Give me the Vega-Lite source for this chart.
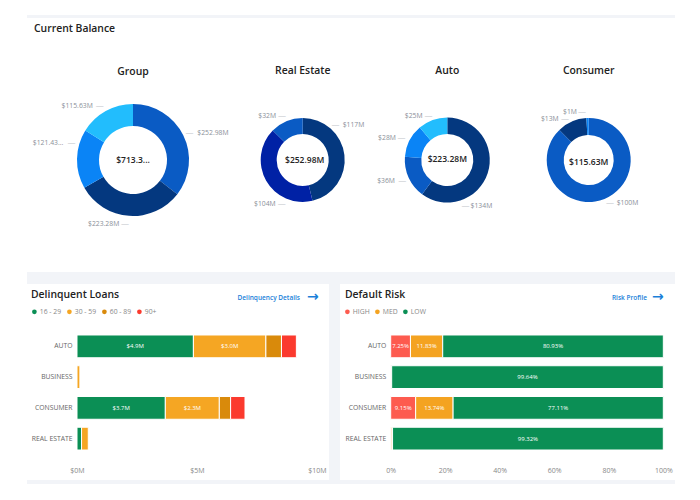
{
  "$schema": "https://vega.github.io/schema/vega-lite/v6.json",
  "padding": {"left": 27, "top": 15, "right": 0, "bottom": 0},
  "background": "white",
  "bounds": "full",
  "spacing": 0,
  "config": {
    "font": "Open Sans",
    "view": {"stroke": null},
    "title": {"color": "#222222", "fontWeight": 600, "fontSize": 10.4},
    "text": {"baseline": "middle"}
  },
  "vconcat": [
    {
      "width": 648, "height": 3,
      "data": {"values": []},
      "mark": "rect",
      "view": {"fill": "#f2f4f8", "stroke": null}
    },
    {
      "width": 648, "height": 30,
      "title": {"text": "Current Balance", "anchor": "start", "frame": "group", "dx": 7, "offset": -16},
      "data": {"values": []},
      "mark": "rect"
    },
    {
      "hconcat": [
        {
          "width": 212, "height": 224,
          "title": {"text": "Group", "anchor": "middle", "frame": "group", "offset": -29},
          "data": {"values": [
            {"segment": "Real Estate", "ord": 1, "value": 252.98, "label": "$252.98M"},
            {"segment": "Auto", "ord": 2, "value": 223.28, "label": "$223.28M"},
            {"segment": "Business", "ord": 3, "value": 121.43, "label": "$121.43..."},
            {"segment": "Consumer", "ord": 4, "value": 115.63, "label": "$115.63M"}
          ]},
          "encoding": {
            "theta": {"field": "value", "type": "quantitative", "stack": "zero"},
            "order": {"field": "ord"}
          },
          "layer": [
            {
              "mark": {"type": "arc", "radius": 56, "radius2": 34},
              "encoding": {
                "color": {"field": "segment", "legend": null, "scale": {"domain": ["Real Estate", "Auto", "Business", "Consumer"], "range": ["#0a5bc4", "#04387f", "#0a84f6", "#22bdfd"]}}
              }
            },
            {
              "encoding": {"theta": {"field": "value", "type": "quantitative", "stack": "zero", "bandPosition": 0.5}},
              "layer": [
                {"mark": {"type": "text", "radius": 62, "align": "left", "dx": 8.7, "dy": 0.6, "fontSize": 6.8, "color": "#8a8f99"}, "encoding": {"text": {"condition": {"test": "datum.ord === 1", "field": "label"}, "value": ""}}},
                {"mark": {"type": "text", "radius": 62, "align": "right", "dx": -9.4, "dy": 2.5, "fontSize": 6.8, "color": "#8a8f99"}, "encoding": {"text": {"condition": {"test": "datum.ord === 2", "field": "label"}, "value": ""}}},
                {"mark": {"type": "text", "radius": 62, "align": "right", "dx": -7.7, "dy": -15.6, "fontSize": 6.8, "color": "#8a8f99"}, "encoding": {"text": {"condition": {"test": "datum.ord === 3", "field": "label"}, "value": ""}}},
                {"mark": {"type": "text", "radius": 62, "align": "right", "dx": -10, "dy": -0.2, "fontSize": 6.8, "color": "#8a8f99"}, "encoding": {"text": {"condition": {"test": "datum.ord === 4", "field": "label"}, "value": ""}}},
                {"mark": {"type": "text", "radius": 62, "dx": 0.9, "dy": 0.3, "fontSize": 8, "color": "#c4c7cd"}, "encoding": {"text": {"condition": {"test": "datum.ord === 1", "value": "—"}, "value": ""}}},
                {"mark": {"type": "text", "radius": 62, "dx": -3.7, "dy": 2.5, "fontSize": 8, "color": "#c4c7cd"}, "encoding": {"text": {"condition": {"test": "datum.ord === 2", "value": "—"}, "value": ""}}},
                {"mark": {"type": "text", "radius": 62, "dx": 0.5, "dy": -15.6, "fontSize": 8, "color": "#c4c7cd"}, "encoding": {"text": {"condition": {"test": "datum.ord === 3", "value": "—"}, "value": ""}}},
                {"mark": {"type": "text", "radius": 62, "dx": -3, "dy": -0.2, "fontSize": 8, "color": "#c4c7cd"}, "encoding": {"text": {"condition": {"test": "datum.ord === 4", "value": "—"}, "value": ""}}}
              ]
            },
            {
              "data": {"values": [{"total": "$713.3..."}]},
              "mark": {"type": "text", "fontSize": 8.5, "fontWeight": 600, "color": "#222222"},
              "encoding": {"theta": null, "order": null, "text": {"field": "total"}}
            }
          ]
        },
        {
          "width": 127.4, "height": 224,
          "title": {"text": "Real Estate", "anchor": "middle", "frame": "group", "offset": -28},
          "data": {"values": [
            {"segment": "Tier 1", "ord": 1, "value": 117, "label": "$117M"},
            {"segment": "Tier 2", "ord": 2, "value": 104, "label": "$104M"},
            {"segment": "Tier 3", "ord": 3, "value": 32, "label": "$32M"}
          ]},
          "encoding": {
            "theta": {"field": "value", "type": "quantitative", "stack": "zero"},
            "order": {"field": "ord"}
          },
          "layer": [
            {
              "mark": {"type": "arc", "radius": 42, "radius2": 26},
              "encoding": {
                "color": {"field": "segment", "legend": null, "scale": {"domain": ["Tier 1", "Tier 2", "Tier 3"], "range": ["#04387f", "#0021a5", "#0a5bc4"]}}
              }
            },
            {
              "encoding": {"theta": {"field": "value", "type": "quantitative", "stack": "zero", "bandPosition": 0.5}},
              "layer": [
                {"mark": {"type": "text", "radius": 48, "align": "left", "dx": -7.7, "dy": -29.5, "fontSize": 6.8, "color": "#8a8f99"}, "encoding": {"text": {"condition": {"test": "datum.ord === 1", "field": "label"}, "value": ""}}},
                {"mark": {"type": "text", "radius": 48, "align": "right", "dx": 14.8, "dy": 20.2, "fontSize": 6.8, "color": "#8a8f99"}, "encoding": {"text": {"condition": {"test": "datum.ord === 2", "field": "label"}, "value": ""}}},
                {"mark": {"type": "text", "radius": 48, "align": "right", "dx": -8.1, "dy": 0.7, "fontSize": 6.8, "color": "#8a8f99"}, "encoding": {"text": {"condition": {"test": "datum.ord === 3", "field": "label"}, "value": ""}}},
                {"mark": {"type": "text", "radius": 48, "dx": -14.9, "dy": -29.5, "fontSize": 8, "color": "#c4c7cd"}, "encoding": {"text": {"condition": {"test": "datum.ord === 1", "value": "—"}, "value": ""}}},
                {"mark": {"type": "text", "radius": 48, "dx": 20.8, "dy": 20.2, "fontSize": 8, "color": "#c4c7cd"}, "encoding": {"text": {"condition": {"test": "datum.ord === 2", "value": "—"}, "value": ""}}},
                {"mark": {"type": "text", "radius": 48, "dx": -2, "dy": 0.7, "fontSize": 8, "color": "#c4c7cd"}, "encoding": {"text": {"condition": {"test": "datum.ord === 3", "value": "—"}, "value": ""}}}
              ]
            },
            {
              "data": {"values": [{"total": "$252.98M"}]},
              "mark": {"type": "text", "fontSize": 8.5, "fontWeight": 600, "color": "#222222", "dx": 2},
              "encoding": {"theta": null, "order": null, "text": {"field": "total"}}
            }
          ]
        },
        {
          "width": 160.6, "height": 224,
          "title": {"text": "Auto", "anchor": "middle", "frame": "group", "offset": -28.5},
          "data": {"values": [
            {"segment": "Tier 1", "ord": 1, "value": 134, "label": "$134M"},
            {"segment": "Tier 2", "ord": 2, "value": 36, "label": "$36M"},
            {"segment": "Tier 3", "ord": 3, "value": 28, "label": "$28M"},
            {"segment": "Tier 4", "ord": 4, "value": 25, "label": "$25M"}
          ]},
          "encoding": {
            "theta": {"field": "value", "type": "quantitative", "stack": "zero"},
            "order": {"field": "ord"}
          },
          "layer": [
            {
              "mark": {"type": "arc", "radius": 42.5, "radius2": 26},
              "encoding": {
                "color": {"field": "segment", "legend": null, "scale": {"domain": ["Tier 1", "Tier 2", "Tier 3", "Tier 4"], "range": ["#04387f", "#0a5bc4", "#0a84f6", "#22bdfd"]}}
              }
            },
            {
              "encoding": {"theta": {"field": "value", "type": "quantitative", "stack": "zero", "bandPosition": 0.5}},
              "layer": [
                {"mark": {"type": "text", "radius": 48.5, "align": "left", "dx": -22.8, "dy": 31.3, "fontSize": 6.8, "color": "#8a8f99"}, "encoding": {"text": {"condition": {"test": "datum.ord === 1", "field": "label"}, "value": ""}}},
                {"mark": {"type": "text", "radius": 48.5, "align": "right", "dx": -8.3, "dy": 0.8, "fontSize": 6.8, "color": "#8a8f99"}, "encoding": {"text": {"condition": {"test": "datum.ord === 2", "field": "label"}, "value": ""}}},
                {"mark": {"type": "text", "radius": 48.5, "align": "right", "dx": -8.2, "dy": 0.4, "fontSize": 6.8, "color": "#8a8f99"}, "encoding": {"text": {"condition": {"test": "datum.ord === 3", "field": "label"}, "value": ""}}},
                {"mark": {"type": "text", "radius": 48.5, "align": "right", "dx": -8, "dy": 1.2, "fontSize": 6.8, "color": "#8a8f99"}, "encoding": {"text": {"condition": {"test": "datum.ord === 4", "field": "label"}, "value": ""}}},
                {"mark": {"type": "text", "radius": 48.5, "dx": -27.8, "dy": 31.3, "fontSize": 8, "color": "#c4c7cd"}, "encoding": {"text": {"condition": {"test": "datum.ord === 1", "value": "—"}, "value": ""}}},
                {"mark": {"type": "text", "radius": 48.5, "dx": -0.9, "dy": 0.8, "fontSize": 8, "color": "#c4c7cd"}, "encoding": {"text": {"condition": {"test": "datum.ord === 2", "value": "—"}, "value": ""}}},
                {"mark": {"type": "text", "radius": 48.5, "dx": -2.5, "dy": 0.4, "fontSize": 8, "color": "#c4c7cd"}, "encoding": {"text": {"condition": {"test": "datum.ord === 3", "value": "—"}, "value": ""}}},
                {"mark": {"type": "text", "radius": 48.5, "dx": -2, "dy": 1.2, "fontSize": 8, "color": "#c4c7cd"}, "encoding": {"text": {"condition": {"test": "datum.ord === 4", "value": "—"}, "value": ""}}}
              ]
            },
            {
              "data": {"values": [{"total": "$223.28M"}]},
              "mark": {"type": "text", "fontSize": 8.5, "fontWeight": 600, "color": "#222222", "dy": -1},
              "encoding": {"theta": null, "order": null, "text": {"field": "total"}}
            }
          ]
        },
        {
          "width": 121.4, "height": 224,
          "title": {"text": "Consumer", "anchor": "middle", "frame": "group", "offset": -28.5},
          "data": {"values": [
            {"segment": "Tier 1", "ord": 1, "value": 100, "label": "$100M"},
            {"segment": "Tier 2", "ord": 2, "value": 13, "label": "$13M"},
            {"segment": "Tier 3", "ord": 3, "value": 1, "label": "$1M"}
          ]},
          "encoding": {
            "theta": {"field": "value", "type": "quantitative", "stack": "zero"},
            "order": {"field": "ord"}
          },
          "layer": [
            {
              "mark": {"type": "arc", "radius": 42, "radius2": 25},
              "encoding": {
                "color": {"field": "segment", "legend": null, "scale": {"domain": ["Tier 1", "Tier 2", "Tier 3"], "range": ["#0a5bc4", "#04387f", "#0a84f6"]}}
              }
            },
            {
              "encoding": {"theta": {"field": "value", "type": "quantitative", "stack": "zero", "bandPosition": 0.5}},
              "layer": [
                {"mark": {"type": "text", "radius": 48, "align": "left", "dx": 9.9, "dy": -1, "fontSize": 6.8, "color": "#8a8f99"}, "encoding": {"text": {"condition": {"test": "datum.ord === 1", "field": "label"}, "value": ""}}},
                {"mark": {"type": "text", "radius": 48, "align": "right", "dx": -10.7, "dy": 3, "fontSize": 6.8, "color": "#8a8f99"}, "encoding": {"text": {"condition": {"test": "datum.ord === 2", "field": "label"}, "value": ""}}},
                {"mark": {"type": "text", "radius": 48, "align": "right", "dx": -10.4, "dy": 0.2, "fontSize": 6.8, "color": "#8a8f99"}, "encoding": {"text": {"condition": {"test": "datum.ord === 3", "field": "label"}, "value": ""}}},
                {"mark": {"type": "text", "radius": 48, "dx": 3.2, "dy": -1, "fontSize": 8, "color": "#c4c7cd"}, "encoding": {"text": {"condition": {"test": "datum.ord === 1", "value": "—"}, "value": ""}}},
                {"mark": {"type": "text", "radius": 48, "dx": -4.4, "dy": 3, "fontSize": 8, "color": "#c4c7cd"}, "encoding": {"text": {"condition": {"test": "datum.ord === 2", "value": "—"}, "value": ""}}},
                {"mark": {"type": "text", "radius": 48, "dx": -5.4, "dy": 0.2, "fontSize": 8, "color": "#c4c7cd"}, "encoding": {"text": {"condition": {"test": "datum.ord === 3", "value": "—"}, "value": ""}}}
              ]
            },
            {
              "data": {"values": [{"total": "$115.63M"}]},
              "mark": {"type": "text", "fontSize": 8.5, "fontWeight": 600, "color": "#222222", "dy": 1.5},
              "encoding": {"theta": null, "order": null, "text": {"field": "total"}}
            }
          ]
        }
      ],
      "bounds": "flush",
      "spacing": 0,
      "resolve": {"scale": {"color": "independent", "theta": "independent"}}
    },
    {
      "width": 648, "height": 12,
      "data": {"values": []},
      "mark": "rect",
      "view": {"fill": "#f2f4f8", "stroke": null}
    },
    {
      "hconcat": [
        {
          "width": 302, "height": 196,
          "title": {"text": "Delinquent Loans", "anchor": "start", "frame": "group", "dx": 4, "offset": -16},
          "layer": [
            {
              "data": {"name": "loans", "values": [
                {"loan": "AUTO", "bucket": "16 - 29", "ord": 1, "value": 4.85, "label": "$4.9M"},
                {"loan": "AUTO", "bucket": "30 - 59", "ord": 2, "value": 3.02, "label": "$3.0M"},
                {"loan": "AUTO", "bucket": "60 - 89", "ord": 3, "value": 0.65, "label": ""},
                {"loan": "AUTO", "bucket": "90+", "ord": 4, "value": 0.62, "label": ""},
                {"loan": "BUSINESS", "bucket": "30 - 59", "ord": 2, "value": 0.12, "label": ""},
                {"loan": "CONSUMER", "bucket": "16 - 29", "ord": 1, "value": 3.68, "label": "$3.7M"},
                {"loan": "CONSUMER", "bucket": "30 - 59", "ord": 2, "value": 2.25, "label": "$2.3M"},
                {"loan": "CONSUMER", "bucket": "60 - 89", "ord": 3, "value": 0.47, "label": ""},
                {"loan": "CONSUMER", "bucket": "90+", "ord": 4, "value": 0.6, "label": ""},
                {"loan": "REAL ESTATE", "bucket": "16 - 29", "ord": 1, "value": 0.19, "label": ""},
                {"loan": "REAL ESTATE", "bucket": "30 - 59", "ord": 2, "value": 0.28, "label": ""}
              ]},
              "encoding": {
                "y": {
                  "field": "loan", "type": "nominal", "title": null,
                  "scale": {"domain": ["AUTO", "BUSINESS", "CONSUMER", "REAL ESTATE"], "range": [47, 170], "paddingInner": 0.26, "paddingOuter": 0.13},
                  "axis": {"domain": false, "ticks": false, "offset": -50, "labelPadding": 5, "labelFontSize": 6.8, "labelColor": "#666666"}
                },
                "x": {
                  "field": "value", "type": "quantitative", "stack": "zero", "title": null,
                  "scale": {"domain": [0, 10], "range": [50, 290], "nice": false},
                  "axis": {"values": [0, 5, 10], "grid": false, "domain": false, "ticks": false, "offset": -16, "labelPadding": 2, "labelFontSize": 7, "labelColor": "#888888", "labelFlush": false, "labelBound": false, "labelExpr": "'$' + datum.value + 'M'"}
                },
                "order": {"field": "ord"}
              },
              "layer": [
                {
                  "mark": {"type": "bar", "stroke": "#ffffff", "strokeWidth": 1},
                  "encoding": {
                    "color": {
                      "field": "bucket", "type": "nominal",
                      "scale": {"domain": ["16 - 29", "30 - 59", "60 - 89", "90+"], "range": ["#0b8f55", "#f5a623", "#d98a0b", "#fb3a2e"]},
                      "legend": {"title": null, "orient": "none", "legendX": 4, "legendY": 24, "direction": "horizontal", "symbolType": "circle", "symbolSize": 22, "symbolStrokeWidth": 0, "labelFontSize": 6.8, "labelColor": "#888888", "labelOffset": 2, "columnPadding": 4}
                    }
                  }
                },
                {
                  "mark": {"type": "text", "color": "#ffffff", "fontSize": 6},
                  "encoding": {
                    "x": {"field": "value", "type": "quantitative", "stack": "zero", "bandPosition": 0.5},
                    "text": {"field": "label"}
                  }
                }
              ]
            },
            {
              "data": {"values": [{"link": "Delinquency Details"}]},
              "mark": {"type": "text", "align": "right", "fontSize": 6.5, "fontWeight": 600, "color": "#1a7fd9", "dy": -48},
              "encoding": {"x": {"datum": 9.29, "type": "quantitative"}, "y": {"datum": "AUTO", "type": "nominal"}, "text": {"field": "link"}}
            },
            {
              "data": {"values": [{"link": "→"}]},
              "mark": {"type": "text", "font": "DejaVu Sans", "fontSize": 14, "fontWeight": "bold", "color": "#1a7fd9", "dy": -49},
              "encoding": {"x": {"datum": 9.83, "type": "quantitative"}, "y": {"datum": "AUTO", "type": "nominal"}, "text": {"field": "link"}}
            }
          ]
        },
        {
          "width": 11, "height": 196,
          "data": {"values": []},
          "mark": "rect",
          "view": {"fill": "#f2f4f8", "stroke": null}
        },
        {
          "width": 335, "height": 196,
          "title": {"text": "Default Risk", "anchor": "start", "frame": "group", "dx": 5, "offset": -16},
          "layer": [
            {
              "data": {"name": "risk", "values": [
                {"loan": "AUTO", "risk": "HIGH", "ord": 1, "value": 7.25, "label": "7.25%"},
                {"loan": "AUTO", "risk": "MED", "ord": 2, "value": 11.83, "label": "11.83%"},
                {"loan": "AUTO", "risk": "LOW", "ord": 3, "value": 80.93, "label": "80.93%"},
                {"loan": "BUSINESS", "risk": "HIGH", "ord": 1, "value": 0.1, "label": ""},
                {"loan": "BUSINESS", "risk": "MED", "ord": 2, "value": 0.26, "label": ""},
                {"loan": "BUSINESS", "risk": "LOW", "ord": 3, "value": 99.64, "label": "99.64%"},
                {"loan": "CONSUMER", "risk": "HIGH", "ord": 1, "value": 9.15, "label": "9.15%"},
                {"loan": "CONSUMER", "risk": "MED", "ord": 2, "value": 13.74, "label": "13.74%"},
                {"loan": "CONSUMER", "risk": "LOW", "ord": 3, "value": 77.11, "label": "77.11%"},
                {"loan": "REAL ESTATE", "risk": "HIGH", "ord": 1, "value": 0.2, "label": ""},
                {"loan": "REAL ESTATE", "risk": "MED", "ord": 2, "value": 0.48, "label": ""},
                {"loan": "REAL ESTATE", "risk": "LOW", "ord": 3, "value": 99.32, "label": "99.32%"}
              ]},
              "encoding": {
                "y": {
                  "field": "loan", "type": "nominal", "title": null,
                  "scale": {"domain": ["AUTO", "BUSINESS", "CONSUMER", "REAL ESTATE"], "range": [47, 170], "paddingInner": 0.26, "paddingOuter": 0.13},
                  "axis": {"domain": false, "ticks": false, "offset": -50.7, "labelPadding": 5, "labelFontSize": 6.8, "labelColor": "#666666"}
                },
                "x": {
                  "field": "value", "type": "quantitative", "stack": "zero", "title": null,
                  "scale": {"domain": [0, 100], "range": [50.7, 323.3], "nice": false},
                  "axis": {"values": [0, 20, 40, 60, 80, 100], "grid": false, "domain": false, "ticks": false, "offset": -16, "labelPadding": 2, "labelFontSize": 7, "labelColor": "#888888", "labelFlush": false, "labelBound": false, "labelExpr": "datum.value + '%'"}
                },
                "order": {"field": "ord"}
              },
              "layer": [
                {
                  "mark": {"type": "bar", "stroke": "#ffffff", "strokeWidth": 1},
                  "encoding": {
                    "color": {
                      "field": "risk", "type": "nominal",
                      "scale": {"domain": ["HIGH", "MED", "LOW"], "range": ["#fd5b4f", "#f4a321", "#0b8f55"]},
                      "legend": {"title": null, "orient": "none", "legendX": 4, "legendY": 24, "direction": "horizontal", "symbolType": "circle", "symbolSize": 22, "symbolStrokeWidth": 0, "labelFontSize": 6.8, "labelColor": "#888888", "labelOffset": 2, "columnPadding": 4}
                    }
                  }
                },
                {
                  "mark": {"type": "text", "color": "#ffffff", "fontSize": 6},
                  "encoding": {
                    "x": {"field": "value", "type": "quantitative", "stack": "zero", "bandPosition": 0.5},
                    "text": {"field": "label"}
                  }
                }
              ]
            },
            {
              "data": {"values": [{"link": "Risk Profile"}]},
              "mark": {"type": "text", "align": "right", "fontSize": 6.5, "fontWeight": 600, "color": "#1a7fd9", "dy": -48},
              "encoding": {"x": {"datum": 94, "type": "quantitative"}, "y": {"datum": "AUTO", "type": "nominal"}, "text": {"field": "link"}}
            },
            {
              "data": {"values": [{"link": "→"}]},
              "mark": {"type": "text", "font": "DejaVu Sans", "fontSize": 14, "fontWeight": "bold", "color": "#1a7fd9", "dy": -49},
              "encoding": {"x": {"datum": 98, "type": "quantitative"}, "y": {"datum": "AUTO", "type": "nominal"}, "text": {"field": "link"}}
            }
          ]
        }
      ],
      "bounds": "flush",
      "spacing": 0,
      "resolve": {"scale": {"color": "independent"}}
    },
    {
      "width": 648, "height": 4,
      "data": {"values": []},
      "mark": "rect",
      "view": {"fill": "#f2f4f8", "stroke": null}
    }
  ]
}
